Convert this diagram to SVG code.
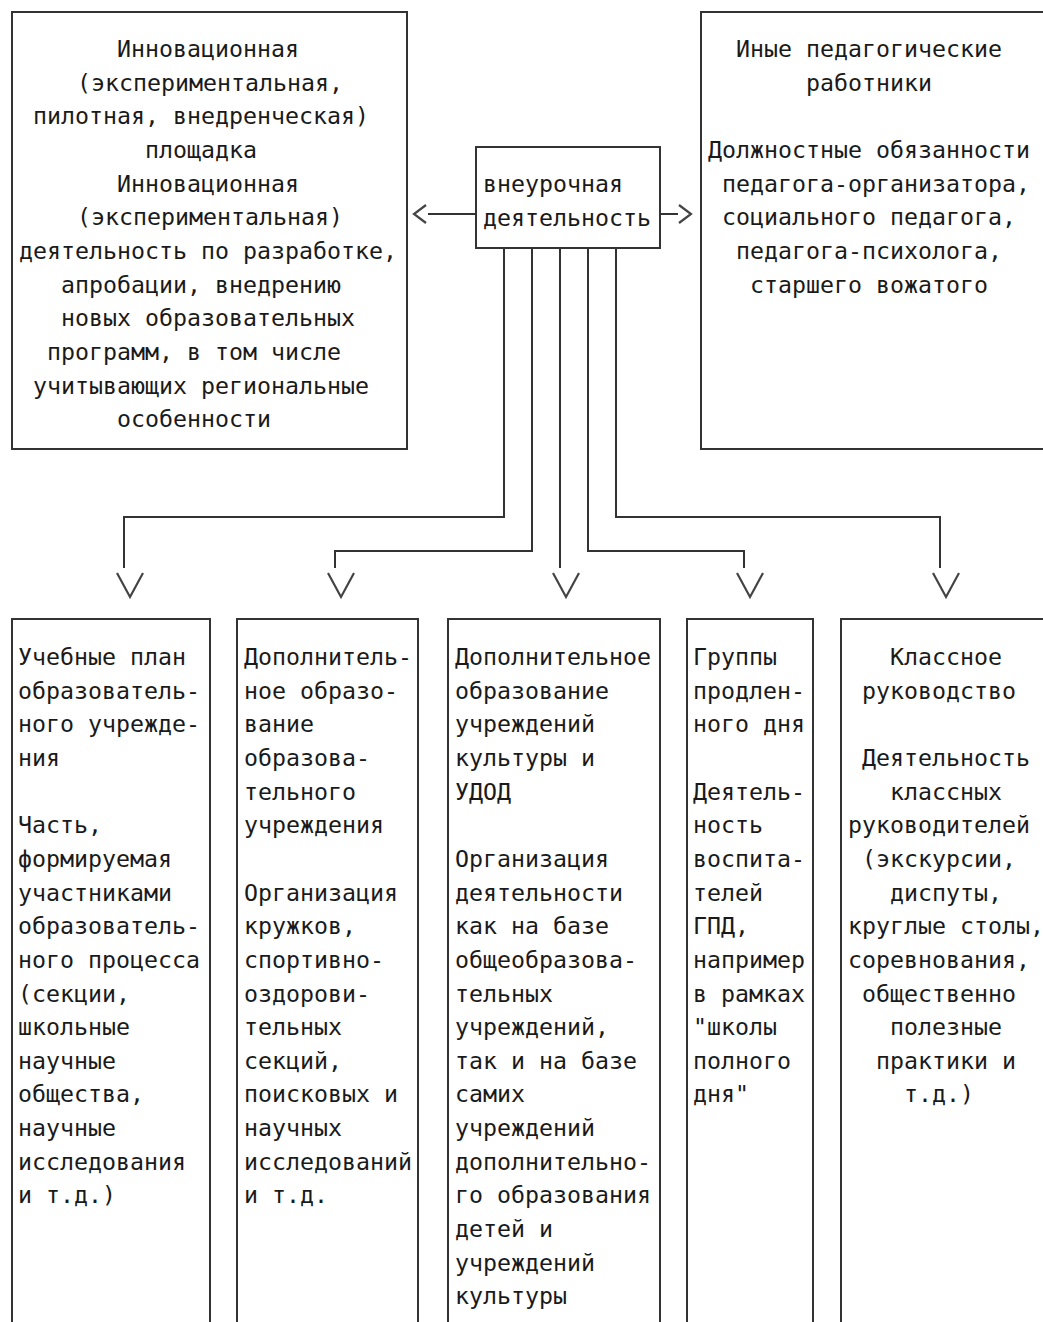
<svg xmlns="http://www.w3.org/2000/svg" width="1043" height="1322" viewBox="0 0 1043 1322">
<style>
  .box { fill: #ffffff; stroke: #333333; stroke-width: 2; }
  .t { font-family: "DejaVu Sans Mono", "Liberation Mono", monospace; font-size: 23.25px; fill: #1a1a1a; }
  .ln { fill: none; stroke: #333333; stroke-width: 2; }
  .ah { fill: none; stroke: #444444; stroke-width: 2.2; stroke-linejoin: miter; }
</style>
<rect x="0" y="0" width="1043" height="1322" fill="#ffffff"/>

<g id="connectors">
  <polyline class="ln" points="476,214 428,214"/>
  <polyline class="ah" points="426,205 414,214 426,223"/>
  <polyline class="ln" points="660,214 678,214"/>
  <polyline class="ah" points="679,205 691,214 679,223"/>
  <polyline class="ln" points="504,248 504,517 124,517 124,568"/>
  <polyline class="ah" points="117,573 130,597 143,573"/>
  <polyline class="ln" points="532,248 532,551 335,551 335,568"/>
  <polyline class="ah" points="328,573 341,597 354,573"/>
  <polyline class="ln" points="560,248 560,568"/>
  <polyline class="ah" points="553,573 566,597 579,573"/>
  <polyline class="ln" points="588,248 588,551 744,551 744,568"/>
  <polyline class="ah" points="737,573 750,597 763,573"/>
  <polyline class="ln" points="616,248 616,517 940,517 940,568"/>
  <polyline class="ah" points="933,573 946,597 959,573"/>
</g>

<g id="node-innovation">
  <rect class="box" x="12" y="12" width="395" height="437"/>
  <text class="t" x="117" y="57">Инновационная</text>
  <text class="t" x="77" y="90.6">(экспериментальная,</text>
  <text class="t" x="33" y="124.3">пилотная, внедренческая)</text>
  <text class="t" x="145" y="157.9">площадка</text>
  <text class="t" x="117" y="191.6">Инновационная</text>
  <text class="t" x="77" y="225.2">(экспериментальная)</text>
  <text class="t" x="19" y="258.9">деятельность по разработке,</text>
  <text class="t" x="61" y="292.5">апробации, внедрению</text>
  <text class="t" x="61" y="326.2">новых образовательных</text>
  <text class="t" x="47" y="359.8">программ, в том числе</text>
  <text class="t" x="33" y="393.5">учитывающих региональные</text>
  <text class="t" x="117" y="427.1">особенности</text>
</g>

<g id="node-other-staff">
  <rect class="box" x="701" y="12" width="360" height="437"/>
  <text class="t" x="736" y="57">Иные педагогические</text>
  <text class="t" x="806" y="90.6">работники</text>
  <text class="t" x="708" y="157.9">Должностные обязанности</text>
  <text class="t" x="722" y="191.6">педагога-организатора,</text>
  <text class="t" x="722" y="225.2">социального педагога,</text>
  <text class="t" x="736" y="258.9">педагога-психолога,</text>
  <text class="t" x="750" y="292.5">старшего вожатого</text>
</g>

<g id="node-center">
  <rect class="box" x="476" y="147" width="184" height="101"/>
  <text class="t" x="483" y="192">внеурочная</text>
  <text class="t" x="483" y="226">деятельность</text>
</g>

<g id="node-curriculum">
  <rect class="box" x="12" y="619" width="198" height="720"/>
  <text class="t" x="18" y="665">Учебные план</text>
  <text class="t" x="18" y="698.6">образователь-</text>
  <text class="t" x="18" y="732.3">ного учрежде-</text>
  <text class="t" x="18" y="765.9">ния</text>
  <text class="t" x="18" y="833.2">Часть,</text>
  <text class="t" x="18" y="866.9">формируемая</text>
  <text class="t" x="18" y="900.5">участниками</text>
  <text class="t" x="18" y="934.2">образователь-</text>
  <text class="t" x="18" y="967.8">ного процесса</text>
  <text class="t" x="18" y="1001.5">(секции,</text>
  <text class="t" x="18" y="1035.1">школьные</text>
  <text class="t" x="18" y="1068.8">научные</text>
  <text class="t" x="18" y="1102.4">общества,</text>
  <text class="t" x="18" y="1136.1">научные</text>
  <text class="t" x="18" y="1169.7">исследования</text>
  <text class="t" x="18" y="1203.4">и т.д.)</text>
</g>

<g id="node-additional-school">
  <rect class="box" x="237" y="619" width="181" height="720"/>
  <text class="t" x="244" y="665">Дополнитель-</text>
  <text class="t" x="244" y="698.6">ное образо-</text>
  <text class="t" x="244" y="732.3">вание</text>
  <text class="t" x="244" y="765.9">образова-</text>
  <text class="t" x="244" y="799.6">тельного</text>
  <text class="t" x="244" y="833.2">учреждения</text>
  <text class="t" x="244" y="900.5">Организация</text>
  <text class="t" x="244" y="934.2">кружков,</text>
  <text class="t" x="244" y="967.8">спортивно-</text>
  <text class="t" x="244" y="1001.5">оздорови-</text>
  <text class="t" x="244" y="1035.1">тельных</text>
  <text class="t" x="244" y="1068.8">секций,</text>
  <text class="t" x="244" y="1102.4">поисковых и</text>
  <text class="t" x="244" y="1136.1">научных</text>
  <text class="t" x="244" y="1169.7">исследований</text>
  <text class="t" x="244" y="1203.4">и т.д.</text>
</g>

<g id="node-additional-culture">
  <rect class="box" x="448" y="619" width="212" height="720"/>
  <text class="t" x="455" y="665">Дополнительное</text>
  <text class="t" x="455" y="698.6">образование</text>
  <text class="t" x="455" y="732.3">учреждений</text>
  <text class="t" x="455" y="765.9">культуры и</text>
  <text class="t" x="455" y="799.6">УДОД</text>
  <text class="t" x="455" y="866.9">Организация</text>
  <text class="t" x="455" y="900.5">деятельности</text>
  <text class="t" x="455" y="934.2">как на базе</text>
  <text class="t" x="455" y="967.8">общеобразова-</text>
  <text class="t" x="455" y="1001.5">тельных</text>
  <text class="t" x="455" y="1035.1">учреждений,</text>
  <text class="t" x="455" y="1068.8">так и на базе</text>
  <text class="t" x="455" y="1102.4">самих</text>
  <text class="t" x="455" y="1136.1">учреждений</text>
  <text class="t" x="455" y="1169.7">дополнительно-</text>
  <text class="t" x="455" y="1203.4">го образования</text>
  <text class="t" x="455" y="1237">детей и</text>
  <text class="t" x="455" y="1270.7">учреждений</text>
  <text class="t" x="455" y="1304.3">культуры</text>
</g>

<g id="node-extended-day">
  <rect class="box" x="687" y="619" width="126" height="720"/>
  <text class="t" x="693" y="665">Группы</text>
  <text class="t" x="693" y="698.6">продлен-</text>
  <text class="t" x="693" y="732.3">ного дня</text>
  <text class="t" x="693" y="799.6">Деятель-</text>
  <text class="t" x="693" y="833.2">ность</text>
  <text class="t" x="693" y="866.9">воспита-</text>
  <text class="t" x="693" y="900.5">телей</text>
  <text class="t" x="693" y="934.2">ГПД,</text>
  <text class="t" x="693" y="967.8">например</text>
  <text class="t" x="693" y="1001.5">в рамках</text>
  <text class="t" x="693" y="1035.1">"школы</text>
  <text class="t" x="693" y="1068.8">полного</text>
  <text class="t" x="693" y="1102.4">дня"</text>
</g>

<g id="node-class-guidance">
  <rect class="box" x="841" y="619" width="220" height="720"/>
  <text class="t" x="890" y="665">Классное</text>
  <text class="t" x="862" y="698.6">руководство</text>
  <text class="t" x="862" y="765.9">Деятельность</text>
  <text class="t" x="890" y="799.6">классных</text>
  <text class="t" x="848" y="833.2">руководителей</text>
  <text class="t" x="862" y="866.9">(экскурсии,</text>
  <text class="t" x="890" y="900.5">диспуты,</text>
  <text class="t" x="848" y="934.2">круглые столы,</text>
  <text class="t" x="848" y="967.8">соревнования,</text>
  <text class="t" x="862" y="1001.5">общественно</text>
  <text class="t" x="890" y="1035.1">полезные</text>
  <text class="t" x="876" y="1068.8">практики и</text>
  <text class="t" x="904" y="1102.4">т.д.)</text>
</g>
</svg>
